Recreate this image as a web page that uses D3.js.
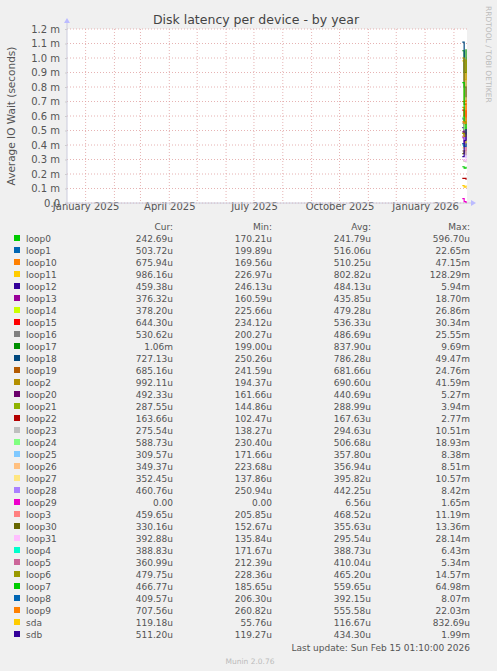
<!DOCTYPE html><html><head><meta charset="utf-8">
<script src="https://d3js.org/d3.v7.min.js"></script>
<style>body{margin:0;background:#f0f0f0}svg{display:block}text{font-family:"DejaVu Sans",sans-serif}</style>
</head><body><svg id="c" width="497" height="671"></svg>
<script>
const names=["loop0","loop1","loop10","loop11","loop12","loop13","loop14","loop15","loop16","loop17","loop18","loop19","loop2","loop20","loop21","loop22","loop23","loop24","loop25","loop26","loop27","loop28","loop29","loop3","loop30","loop31","loop4","loop5","loop6","loop7","loop8","loop9","sda","sdb"];
const curS=["242.69u","503.72u","675.94u","986.16u","459.38u","376.32u","378.20u","644.30u","530.62u","1.06m","727.13u","685.16u","992.11u","492.33u","287.55u","163.66u","275.54u","588.73u","309.57u","349.37u","352.45u","460.76u","0.00","459.65u","330.16u","392.88u","388.83u","360.99u","479.75u","466.77u","409.57u","707.56u","119.18u","511.20u"];
const minS=["170.21u","199.89u","169.56u","226.97u","246.13u","160.59u","225.66u","234.12u","200.27u","199.00u","250.26u","241.59u","194.37u","161.66u","144.86u","102.47u","138.27u","230.40u","171.66u","223.68u","137.86u","250.94u","0.00","205.85u","152.67u","135.84u","171.67u","212.39u","228.36u","185.65u","206.30u","260.82u","55.76u","119.27u"];
const avgS=["241.79u","516.06u","510.25u","802.82u","484.13u","435.85u","479.28u","536.33u","486.69u","837.90u","786.28u","681.66u","690.60u","440.69u","288.99u","167.63u","294.63u","506.68u","357.80u","356.94u","395.82u","442.25u","6.56u","468.52u","355.63u","295.54u","388.73u","410.04u","465.20u","559.65u","392.15u","555.58u","116.67u","434.30u"];
const maxS=["596.70u","22.65m","47.15m","128.29m","5.94m","18.70m","26.86m","30.34m","25.55m","9.69m","49.47m","24.76m","41.59m","5.27m","3.94m","2.77m","10.51m","18.93m","8.38m","8.51m","10.57m","8.42m","1.65m","11.19m","13.36m","28.14m","6.43m","5.34m","14.57m","64.98m","8.07m","22.03m","832.69u","1.99m"];
const seriesVals=[
[0.00025,0.00024,0.00025],[0.00058,0.00052,0.0005],[0.00066,0.00051,0.00068],[0.00098,0.00085,0.00099],
[0.00052,0.00048,0.00046],[0.00045,0.00042,0.00038],[0.00048,0.00046,0.00038],[0.00064,0.00054,0.00064],
[0.00055,0.00049,0.00053],[0.00105,0.0009,0.00106],[0.00111,0.0008,0.00073],[0.0007,0.00068,0.00069],
[0.001,0.0007,0.00099],[0.00049,0.00044,0.00049],[0.0003,0.00029,0.00029],[0.00017,0.00017,0.00016],
[0.0003,0.00029,0.00028],[0.00059,0.00051,0.00059],[0.00036,0.00035,0.00031],[0.00036,0.00035,0.00035],
[0.00038,0.0004,0.00035],[0.00046,0.00044,0.00046],[0.00003,0.00001,0],[0.00046,0.00047,0.00046],
[0.00034,0.00036,0.00033],[0.0003,0.00029,0.00039],[0.0004,0.00039,0.00039],[0.00041,0.00041,0.00036],
[0.00048,0.00046,0.00048],[0.00083,0.00056,0.00047],[0.00041,0.00039,0.00041],[0.00056,0.00055,0.00071],
[0.00012,0.00011,0.00012],[0.00032,0.00043,0.00051]];
const dates=["2026-02-10","2026-02-12","2026-02-14"];
const yTicks=[0,0.0001,0.0002,0.0003,0.0004,0.0005,0.0006,0.0007,0.0008,0.0009,0.001,0.0011,0.0012];
const yLabels=["0.0","0.1 m","0.2 m","0.3 m","0.4 m","0.5 m","0.6 m","0.7 m","0.8 m","0.9 m","1.0 m","1.1 m","1.2 m"];
const xTicks=["2025-01-01","2025-04-01","2025-07-01","2025-10-01","2026-01-01"];
const xLabels=["January 2025","April 2025","July 2025","October 2025","January 2026"];
const palette=["#00CC00","#0066B3","#FF8000","#FFCC00","#330099","#990099","#CCFF00","#FF0000","#808080","#008F00","#00487D","#B35A00","#B38F00","#6B006B","#8FB300","#B30000","#BEBEBE","#80FF80","#80C9FF","#FFC080","#FFE680","#AA80FF","#EE00CC","#FF8080","#666600","#FFBFFF","#00FFCC","#CC6699","#999900"];

const svg=d3.select("#c");
const L=67,R=467,T=29,B=203;
const x=d3.scaleTime().domain([new Date("2024-12-12"),new Date("2026-02-15T01:10")]).range([L,R]);
const y=d3.scaleLinear().domain([0,0.0012]).range([B,T]);
svg.append("rect").attr("x",L).attr("y",T).attr("width",R-L).attr("height",B-T).attr("fill","#fff");
const months=d3.timeMonth.range(new Date("2024-12-12"),new Date("2026-02-15"));
svg.append("g").selectAll("line").data(months).join("line").attr("x1",d=>x(d)).attr("x2",d=>x(d)).attr("y1",T).attr("y2",B)
 .attr("stroke","#e0a0a0").attr("stroke-dasharray","1,2").attr("stroke-width",0.8);
svg.append("g").selectAll("line").data(yTicks).join("line").attr("x1",L).attr("x2",R).attr("y1",d=>y(d)).attr("y2",d=>y(d))
 .attr("stroke","#e0a0a0").attr("stroke-dasharray","1,2").attr("stroke-width",0.8);
const ya=svg.append("g").attr("transform",`translate(${L},0)`).call(d3.axisLeft(y).tickValues(yTicks).tickFormat((d,i)=>yLabels[i]).tickSize(2));
ya.select(".domain").remove();ya.selectAll("line").attr("stroke","#ccc");
ya.selectAll("text").attr("font-size",10).attr("fill","#555").attr("dx",-2);
const xa=svg.append("g").attr("transform",`translate(0,${B})`).call(d3.axisBottom(x).tickValues(xTicks.map(d=>new Date(d))).tickFormat((d,i)=>xLabels[i]).tickSize(2));
xa.select(".domain").remove();xa.selectAll("line").attr("stroke","#ccc");
xa.selectAll("text").attr("font-size",10).attr("fill","#555").attr("dy",2);
svg.append("line").attr("x1",L-2).attr("x2",R+4).attr("y1",B).attr("y2",B).attr("stroke","#ccd");
svg.append("line").attr("x1",L).attr("x2",L).attr("y1",B+2).attr("y2",T-6).attr("stroke","#ccd");
svg.append("path").attr("d",`M${R+4},${B-3}L${R+9},${B}L${R+4},${B+3}Z`).attr("fill","#bbf");
svg.append("path").attr("d",`M${L-3},${T-6}L${L},${T-11}L${L+3},${T-6}Z`).attr("fill","#bbf");
const line=d3.line().x((d,i)=>x(new Date(dates[i]))).y(d=>y(d)).curve(d3.curveStepAfter);
seriesVals.forEach((v,i)=>{svg.append("path").attr("d",line(v)).attr("fill","none").attr("stroke",palette[i%29]).attr("stroke-width",1.2);});
svg.append("text").attr("x",256).attr("y",24).attr("text-anchor","middle").attr("font-size",12.5).attr("fill","#444").text("Disk latency per device - by year");
svg.append("text").attr("transform","translate(15,116) rotate(-90)").attr("text-anchor","middle").attr("font-size",10.5).attr("fill","#555").text("Average IO Wait (seconds)");
svg.append("text").attr("transform","translate(486,6) rotate(90)").attr("font-size",7.5).attr("fill","#bbb").text("RRDTOOL / TOBI OETIKER");
const mono='"DejaVu Sans Mono",monospace';
const hdr=[["Cur:",173],["Min:",272],["Avg:",371],["Max:",470]];
hdr.forEach(h=>svg.append("text").attr("x",h[1]).attr("y",230).attr("text-anchor","end").attr("font-family",mono).attr("font-size",9).attr("fill","#555").text(h[0]));
names.forEach((n,i)=>{const yy=242+i*12.0;
 svg.append("rect").attr("x",14).attr("y",yy-7).attr("width",6).attr("height",6).attr("fill",palette[i%29]);
 svg.append("text").attr("x",26).attr("y",yy).attr("font-family",mono).attr("font-size",9).attr("fill","#555").text(n);
 [curS[i],minS[i],avgS[i],maxS[i]].forEach((s,j)=>svg.append("text").attr("x",hdr[j][1]).attr("y",yy).attr("text-anchor","end").attr("font-family",mono).attr("font-size",9).attr("fill","#555").text(s));
});
svg.append("text").attr("x",470).attr("y",651).attr("text-anchor","end").attr("font-family",mono).attr("font-size",9).attr("fill","#555").text("Last update: Sun Feb 15 01:10:00 2026");
svg.append("text").attr("x",250).attr("y",664).attr("text-anchor","middle").attr("font-size",7.5).attr("fill","#bbb").text("Munin 2.0.76");
</script></body></html>
